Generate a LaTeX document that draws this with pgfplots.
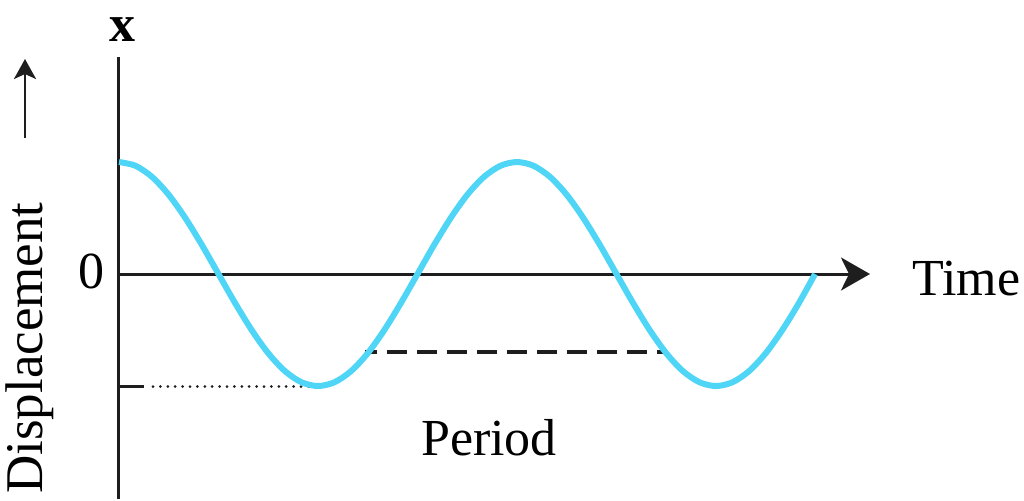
\documentclass[border=0pt]{standalone}
\usepackage{pgfplots}
\pgfplotsset{compat=1.18}
\usepackage{fontspec}
\setmainfont{Liberation Serif}
\usetikzlibrary{arrows.meta}
\definecolor{wave}{RGB}{79,213,246}
\definecolor{ink}{RGB}{30,30,30}
\begin{document}
\begin{tikzpicture}
\begin{axis}[
  hide axis, clip=false,
  x=0.5pt, y=0.5pt,
  xmin=0, xmax=1024, ymin=0, ymax=500,
  y dir=reverse,
  anchor=origin, at={(0,0)},
]
% vertical axis
\addplot[ink, line width=1.5pt] coordinates {(118,57) (118,499)};
% horizontal axis with arrow
\addplot[ink, line width=1.5pt, -{Stealth[length=14.5pt,width=16.5pt,inset=4pt]}] coordinates {(118,274) (870,274)};
% left arrow
\addplot[ink, line width=1.3pt, -{Stealth[length=10pt,width=11pt,inset=2.5pt]}] coordinates {(25,138) (25,59)};
% tick at trough level
\addplot[ink, line width=1.5pt] coordinates {(118,386) (144,386)};
% dotted line
\addplot[ink, line width=1.5pt, line cap=round, dash pattern=on 0pt off 3.7pt] coordinates {(153,386.5) (309,386.5)};
% dashed line
\addplot[ink, line width=1.6pt, dash pattern=on 10pt off 5pt, dash phase=4pt] coordinates {(365,352) (667,352)};
% wave
\addplot[wave, line width=3pt, smooth] coordinates {
(119,162) (135.58,165.8) (152.17,177.0) (168.75,194.8) (185.33,218) (201.92,245.0)
(218.5,274) (235.08,303.0) (251.67,330) (268.25,353.2) (284.83,371.0) (301.42,382.2)
(318,386) (334.58,382.2) (351.17,371.0) (367.75,353.2) (384.33,330) (400.92,303.0)
(417.5,274) (434.08,245.0) (450.67,218) (467.25,194.8) (483.83,177.0) (500.42,165.8)
(517,162) (533.58,165.8) (550.17,177.0) (566.75,194.8) (583.33,218) (599.92,245.0)
(616.5,274) (633.08,303.0) (649.67,330) (666.25,353.2) (682.83,371.0) (699.42,382.2)
(716,386) (732.58,382.2) (749.17,371.0) (765.75,353.2) (782.33,330) (798.92,303.0)
(815,274)};
\node[anchor=base, font=\fontsize{26}{30}\selectfont\bfseries, inner sep=0pt] at (axis cs:122,41) {x};
\node[anchor=base, font=\fontsize{26}{30}\selectfont, inner sep=0pt] at (axis cs:91,288) {0};
\node[anchor=base, font=\fontsize{26}{30}\selectfont, inner sep=0pt] at (axis cs:489,455) {Period};
\node[anchor=base west, font=\fontsize{26}{30}\selectfont, inner sep=0pt] at (axis cs:912,295) {Time};
\node[anchor=base, rotate=90, font=\fontsize{26.5}{30}\selectfont, inner sep=0pt] at (axis cs:42,348) {Displacement};
\coordinate (ll) at (axis cs:0,500);
\coordinate (ur) at (axis cs:1024,0);
\end{axis}
\pgfresetboundingbox
\path (ll) rectangle (ur);
\end{tikzpicture}
\end{document}
